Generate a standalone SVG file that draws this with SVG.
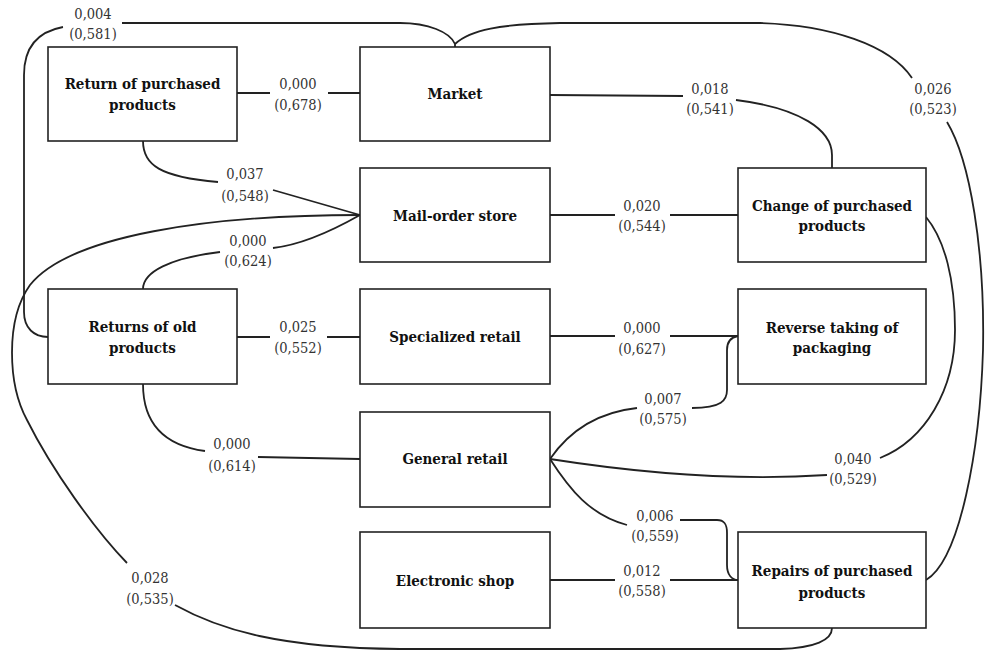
<svg xmlns="http://www.w3.org/2000/svg" width="988" height="653" viewBox="0 0 988 653">
<style>
.box{fill:#fff;stroke:#222;stroke-width:1.6}
text{font-family:'DejaVu Serif Condensed','DejaVu Serif',serif;text-anchor:middle}
.nt{font-size:15px;font-weight:bold;fill:#111}
.lt{font-size:14.5px;fill:#333}
.c path{fill:none;stroke:#222;stroke-width:1.8}
</style>
<rect width="988" height="653" fill="#fff"/>
<g class="c" id="connectors">
<path d="M48 337 C34 337 24 328 24 312 L24 75 C24 48 36 32 63 27"/>
<path d="M122 23 L400 23 C428 23 450 32 455 44 L455 47"/>
<path d="M455 44 C470 30 500 24 560 23 L760 23 C830 25 890 45 912 78"/>
<path d="M947 122 C970 160 985 250 983 350 C980 450 960 560 926 580"/>
<path d="M237 93 L270 93 M328 93 L360 93"/>
<path d="M550 95 L683 96 M736 100 C800 108 832 130 832 155 L832 168"/>
<path d="M143 141 C143 165 160 177 218 182 M273 190 L360 215"/>
<path d="M360 215 C330 232 300 245 273 248 M220 252 C170 258 143 272 143 289"/>
<path d="M360 215 C210 215 70 235 30 285 C5 320 8 385 27 420 C52 470 95 530 127 563"/>
<path d="M175 605 C220 630 280 648 400 649 L780 649 C815 648 832 640 832 628"/>
<path d="M550 215 L615 215 M670 215 L738 215"/>
<path d="M237 337 L270 337 M327 337 L360 337"/>
<path d="M550 336 L615 336 M670 336 L738 336"/>
<path d="M143 384 C143 420 160 445 205 451 M258 457 L360 459"/>
<path d="M550 459 C570 430 600 412 637 408 M692 408 C722 408 727 400 727 390 L727 350 C727 340 732 337 738 336"/>
<path d="M550 459 C620 470 720 482 827 475 M880 458 C925 440 955 390 955 330 C955 280 945 240 926 217"/>
<path d="M550 459 C570 490 590 515 627 525 M680 520 L717 520 C725 520 727 525 727 533 L727 565 C727 575 732 580 738 580"/>
<path d="M550 580 L615 580 M670 580 L738 580"/>
</g>
<g id="return-purchased"><rect class="box" x="48" y="47" width="189" height="94"/><text class="nt" x="142.5" y="89">Return of purchased</text><text class="nt" x="142.5" y="110">products</text></g>
<g id="market"><rect class="box" x="360" y="47" width="190" height="94"/><text class="nt" x="455" y="99">Market</text></g>
<g id="mail-order"><rect class="box" x="360" y="168" width="190" height="94"/><text class="nt" x="455" y="221">Mail-order store</text></g>
<g id="change-purchased"><rect class="box" x="738" y="168" width="188" height="94"/><text class="nt" x="832" y="211">Change of purchased</text><text class="nt" x="832" y="231">products</text></g>
<g id="returns-old"><rect class="box" x="48" y="289" width="189" height="95"/><text class="nt" x="142.5" y="332">Returns of old</text><text class="nt" x="142.5" y="353">products</text></g>
<g id="specialized"><rect class="box" x="360" y="289" width="190" height="95"/><text class="nt" x="455" y="342">Specialized retail</text></g>
<g id="reverse-packaging"><rect class="box" x="738" y="289" width="188" height="95"/><text class="nt" x="832" y="333">Reverse taking of</text><text class="nt" x="832" y="353">packaging</text></g>
<g id="general-retail"><rect class="box" x="360" y="412" width="190" height="95"/><text class="nt" x="455" y="464">General retail</text></g>
<g id="electronic-shop"><rect class="box" x="360" y="532" width="190" height="96"/><text class="nt" x="455" y="586">Electronic shop</text></g>
<g id="repairs-purchased"><rect class="box" x="738" y="532" width="188" height="96"/><text class="nt" x="832" y="576">Repairs of purchased</text><text class="nt" x="832" y="598">products</text></g>
<g id="labels">
<text class="lt" x="93" y="18.5">0,004</text><text class="lt" x="93" y="38.5">(0,581)</text>
<text class="lt" x="298" y="88.5">0,000</text><text class="lt" x="298" y="109.5">(0,678)</text>
<text class="lt" x="710" y="93.5">0,018</text><text class="lt" x="710" y="113.5">(0,541)</text>
<text class="lt" x="933" y="93.5">0,026</text><text class="lt" x="933" y="113.5">(0,523)</text>
<text class="lt" x="245" y="178.5">0,037</text><text class="lt" x="245" y="200.5">(0,548)</text>
<text class="lt" x="642" y="210.5">0,020</text><text class="lt" x="642" y="230.5">(0,544)</text>
<text class="lt" x="248" y="245.5">0,000</text><text class="lt" x="248" y="265.5">(0,624)</text>
<text class="lt" x="298" y="331.5">0,025</text><text class="lt" x="298" y="352.5">(0,552)</text>
<text class="lt" x="642" y="332.5">0,000</text><text class="lt" x="642" y="353.5">(0,627)</text>
<text class="lt" x="663" y="403.5">0,007</text><text class="lt" x="663" y="423.5">(0,575)</text>
<text class="lt" x="232" y="448.5">0,000</text><text class="lt" x="232" y="470.5">(0,614)</text>
<text class="lt" x="853" y="463.5">0,040</text><text class="lt" x="853" y="483.5">(0,529)</text>
<text class="lt" x="655" y="520.5">0,006</text><text class="lt" x="655" y="540.5">(0,559)</text>
<text class="lt" x="642" y="575.5">0,012</text><text class="lt" x="642" y="595.5">(0,558)</text>
<text class="lt" x="150" y="582.5">0,028</text><text class="lt" x="150" y="603.5">(0,535)</text>
</g>
</svg>
